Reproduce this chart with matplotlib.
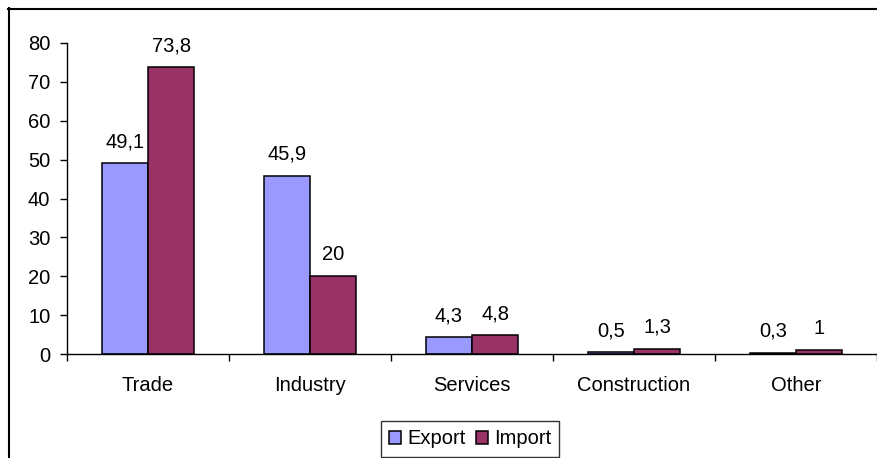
import matplotlib
matplotlib.use("Agg")
import matplotlib.pyplot as plt
from matplotlib.lines import Line2D
import numpy as np

categories = ["Trade", "Industry", "Services", "Construction", "Other"]
export_vals = [49.1, 45.9, 4.3, 0.5, 0.3]
import_vals = [73.8, 20, 4.8, 1.3, 1]
series_names = ["Export", "Import"]
y_ticks = [0, 10, 20, 30, 40, 50, 60, 70, 80]

plt.rcParams['font.family'] = ['Liberation Sans', 'DejaVu Sans']
FS = 14.5

W, H = 878, 458
fig = plt.figure(figsize=(W/100, H/100), dpi=100)
ax = fig.add_axes([67/W, 1-354/H, (877-67)/W, (354-43)/H])

x = np.arange(len(categories))
bw = 1/3.5
b1 = ax.bar(x - bw/2, export_vals, bw, color="#9999FF", edgecolor="black", linewidth=1.1, label=series_names[0])
b2 = ax.bar(x + bw/2, import_vals, bw, color="#993366", edgecolor="black", linewidth=1.1, label=series_names[1])

def fmt(v):
    return ("%g" % v).replace(".", ",")

for bars, vals in ((b1, export_vals), (b2, import_vals)):
    for r, v in zip(bars, vals):
        ax.annotate(fmt(v), (r.get_x() + r.get_width()/2, r.get_height()),
                    xytext=(0, 12), textcoords="offset pixels",
                    ha="center", va="bottom", fontsize=FS)

ax.set_xlim(-0.5, len(categories) - 0.5)
ax.set_ylim(0, 80)
ax.set_yticks(y_ticks)
ax.set_yticklabels([str(t) for t in y_ticks], fontsize=FS)
ax.tick_params(axis='y', direction='out', length=5, width=1, pad=7)

ax.set_xticks(x)
ax.set_xticklabels(categories, fontsize=FS)
ax.set_xticks(np.arange(len(categories) + 1) - 0.5, minor=True)
ax.tick_params(axis='x', which='major', length=0, pad=16)
ax.tick_params(axis='x', which='minor', direction='out', length=5, width=1)

for s in ("top", "right"):
    ax.spines[s].set_visible(False)
for s in ("left", "bottom"):
    ax.spines[s].set_linewidth(1)

leg = fig.legend(loc="center", bbox_to_anchor=(470/W, 1-439/H), ncol=2, frameon=True,
                 fontsize=FS, handlelength=0.6, handleheight=0.6, handletextpad=0.3,
                 columnspacing=0.5, borderpad=0.4, fancybox=False)
leg.get_frame().set_edgecolor("black")
leg.get_frame().set_linewidth(1)

# outer chart border (left and top visible)
fig.add_artist(Line2D([8.5/W, 8.5/W], [0, 1-8/H], transform=fig.transFigure, color="black", linewidth=1.5))
fig.add_artist(Line2D([8/W, 1], [1-8.5/H, 1-8.5/H], transform=fig.transFigure, color="black", linewidth=1.5))

fig.savefig("out.png", dpi=100)
